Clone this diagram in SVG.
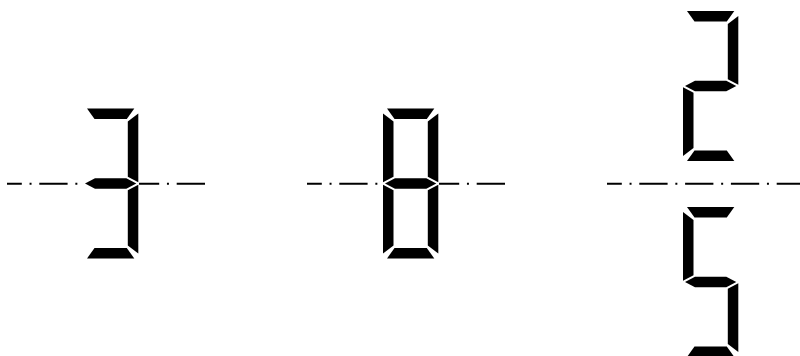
<svg xmlns="http://www.w3.org/2000/svg" xmlns:xlink="http://www.w3.org/1999/xlink" width="800" height="356" viewBox="0 0 800 356">
  <style>
    .axis { stroke: #000; stroke-width: 2; fill: none; stroke-dasharray: 28.3 7.75 2 7.75; }
    .seg { fill: #000; stroke: none; }
  </style>
  <defs>
    <polygon id="sA" class="seg" points="4,0 51.3,0 43.8,10.5 11.5,10.5"/>
    <polygon id="sB" class="seg" points="55.3,5 55.3,73.8 44.8,68.3 44.8,13"/>
    <polygon id="sC" class="seg" points="55.3,76.2 55.3,145 44.8,137 44.8,81.7"/>
    <polygon id="sD" class="seg" points="4,150 51.3,150 43.8,139.5 11.5,139.5"/>
    <polygon id="sE" class="seg" points="0,76.2 10.5,81.7 10.5,137 0,145"/>
    <polygon id="sF" class="seg" points="0,5 10.5,13 10.5,68.3 0,73.8"/>
    <polygon id="sG" class="seg" points="2,75 12,69.75 43.3,69.75 53.3,75 43.3,80.25 12,80.25"/>
  </defs>
  <rect width="800" height="356" fill="#fff"/>
  <g id="axes">
    <line class="axis" x1="7" y1="183.8" x2="84" y2="183.8" stroke-dashoffset="13.5"/>
    <line class="axis" x1="139" y1="183.8" x2="205" y2="183.8" stroke-dashoffset="8.1"/>
    <line class="axis" x1="307" y1="183.8" x2="381" y2="183.8" stroke-dashoffset="13.5"/>
    <line class="axis" x1="439" y1="183.8" x2="505" y2="183.8" stroke-dashoffset="8.1"/>
    <line class="axis" x1="607" y1="183.8" x2="805" y2="183.8" stroke-dashoffset="13.5"/>
  </g>
  <g id="digit-3" transform="translate(83 108.5)">
    <use xlink:href="#sA"/><use xlink:href="#sB"/><use xlink:href="#sG"/><use xlink:href="#sC"/><use xlink:href="#sD"/>
  </g>
  <g id="digit-8" transform="translate(383 108.5)">
    <use xlink:href="#sA"/><use xlink:href="#sB"/><use xlink:href="#sC"/><use xlink:href="#sD"/><use xlink:href="#sE"/><use xlink:href="#sF"/><use xlink:href="#sG"/>
  </g>
  <g id="digit-2" transform="translate(683 11)">
    <use xlink:href="#sA"/><use xlink:href="#sB"/><use xlink:href="#sG"/><use xlink:href="#sE"/><use xlink:href="#sD"/>
  </g>
  <g id="digit-5" transform="translate(683 207)">
    <use xlink:href="#sA"/><use xlink:href="#sF"/><use xlink:href="#sG"/><use xlink:href="#sC"/><use xlink:href="#sD"/>
  </g>
</svg>
